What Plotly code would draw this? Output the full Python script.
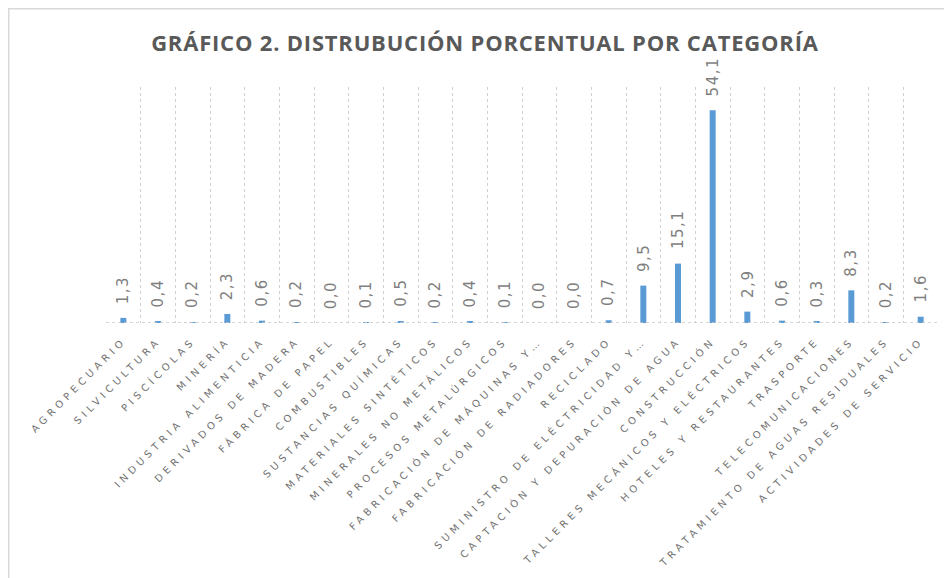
import plotly.graph_objects as go

categories = [
    "AGROPECUARIO", "SILVICULTURA", "PISCÍCOLAS", "MINERÍA",
    "INDUSTRIA ALIMENTICIA", "DERIVADOS DE MADERA", "FÁBRICA DE PAPEL",
    "COMBUSTIBLES", "SUSTANCIAS QUÍMICAS", "MATERIALES SINTÉTICOS",
    "MINERALES NO METÁLICOS", "PROCESOS METALÚRGICOS",
    "FABRICACIÓN DE MÁQUINAS Y…", "FABRICACIÓN DE RADIADORES", "RECICLADO",
    "SUMINISTRO DE ELÉCTRICIDAD Y…", "CAPTACIÓN Y DEPURACIÓN DE AGUA",
    "CONSTRUCCIÓN", "TALLERES MECÁNICOS Y ELÉCTRICOS",
    "HOTELES Y RESTAURANTES", "TRASPORTE", "TELECOMUNICACIONES",
    "TRATAMIENTO DE AGUAS RESIDUALES", "ACTIVIDADES DE SERVICIO",
]
values = [1.3, 0.4, 0.2, 2.3, 0.6, 0.2, 0.0, 0.1, 0.5, 0.2, 0.4, 0.1,
          0.0, 0.0, 0.7, 9.5, 15.1, 54.1, 2.9, 0.6, 0.3, 8.3, 0.2, 1.6]
title_text = "GRÁFICO 2. DISTRUBUCIÓN PORCENTUAL POR CATEGORÍA"

tick_labels = [f"<span style='letter-spacing:4.1px'>{c}</span>" for c in categories]

fig = go.Figure()
fig.add_trace(go.Bar(
    x=categories, y=values,
    marker=dict(color="#5b9bd5", line=dict(width=0)),
    hoverinfo="x+y",
))

annotations = []
for c, v in zip(categories, values):
    annotations.append(dict(
        x=c, y=v, xref="x", yref="y",
        text="<span style='letter-spacing:1.5px'>" + f"{v:.1f}".replace(".", ",") + "</span>",
        textangle=-90, showarrow=False,
        xanchor="center", yanchor="bottom", yshift=12,
        font=dict(family="DejaVu Sans", size=15, color="#7f7f7f"),
    ))

fig.update_layout(
    width=952, height=578,
    paper_bgcolor="white", plot_bgcolor="white",
    margin=dict(l=98, r=22, t=79, b=263),
    showlegend=False,
    bargap=0.827,
    separators=",.",
    title=dict(
        text="<span style='letter-spacing:0.8px'>" + title_text + "</span>",
        x=0.501, xanchor="center", y=0.9394, yanchor="middle",
        font=dict(family="Open Sans", size=22, color="#595959", weight="bold"),
    ),
    annotations=annotations,
    shapes=[
        dict(type="rect", xref="paper", yref="paper",
             x0=-0.1172, x1=1.05, y0=-1.2, y1=1.333,
             line=dict(color="#d9d9d9", width=2), fillcolor="rgba(0,0,0,0)",
             layer="below"),
        dict(type="line", xref="paper", yref="y", x0=0, x1=1, y0=0, y1=0,
             line=dict(color="#c8c8c8", width=1.5, dash="dot")),
    ],
)
fig.update_xaxes(
    type="category", range=[-0.5, len(categories) - 0.5],
    tickmode="array", tickvals=categories, ticktext=tick_labels,
    tickson="boundaries", showgrid=True, gridcolor="#d0d0d0", gridwidth=1,
    griddash="dot", ticks="", showline=False, zeroline=False,
    tickangle=-45, automargin=False, ticklabelstandoff=9,
    tickfont=dict(family="DejaVu Sans", size=10, color="#737373"),
)
fig.update_yaxes(
    range=[0, 60], visible=False, showgrid=False, zeroline=False,
)

fig.write_html("out.html")
